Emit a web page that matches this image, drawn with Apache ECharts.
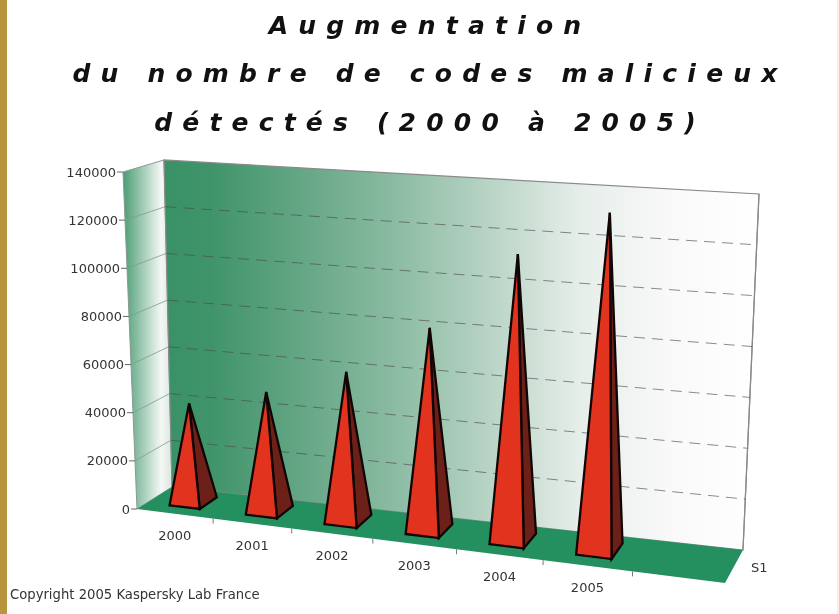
<!DOCTYPE html>
<html><head><meta charset="utf-8">
<style>
html,body{margin:0;padding:0;background:#fff}
#c{width:839px;height:614px;filter:blur(0.45px)}
svg text[style*="italic"]{letter-spacing:10.2px}
</style>
<script src="https://cdn.jsdelivr.net/npm/echarts@6/dist/echarts.min.js"></script>
</head><body><div id="c"></div>
<script>
const titleLines = ['Augmentation','du nombre de codes malicieux','détectés (2000 à 2005)'];
const categories = ['2000','2001','2002','2003','2004','2005',''];
const values = [41500,49500,61000,82000,114500,133500];
const yTicks = [0,20000,40000,60000,80000,100000,120000,140000];
const seriesName = 'S1';
const copyright = 'Copyright 2005 Kaspersky Lab France';

// Projection of the chart box: bottom/top, front/back corners on screen.
const BOX = {
  b:{fl:[137,509],fr:[725,583],bl:[172,487],br:[743,550]},
  t:{fl:[123,172],fr:[747,217],bl:[164,160],br:[759,194]}
};
const PERSPECTIVE = 1.12;
const lerp=(a,b,t)=>[a[0]+(b[0]-a[0])*t,a[1]+(b[1]-a[1])*t];
const skew=u=>u/(u+PERSPECTIVE*(1-u));
function project(u,v,d){
  const f=skew(u);
  const lev=L=>lerp(lerp(L.fl,L.fr,f),lerp(L.bl,L.br,f),d);
  return lerp(lev(BOX.b),lev(BOX.t),v);
}
const uOf=(api,c)=>c[0]/api.getWidth();
const vOf=(api,c)=>1-c[1]/api.getHeight();
const poly=(pts,style)=>({type:'polygon',shape:{points:pts},style});
const line=(a,b,style)=>({type:'line',shape:{x1:a[0],y1:a[1],x2:b[0],y2:b[1]},style});
const TXT='"DejaVu Sans",sans-serif', INK='#333333';

function renderFrame(p,api){
  const G=echarts.graphic.LinearGradient;
  const back=new G(0,0,1,0,[{offset:0,color:'#3a9166'},{offset:.08,color:'#40946a'},{offset:.23,color:'#64a685'},{offset:.4,color:'#8ebda5'},{offset:.56,color:'#bcd6c8'},{offset:.7,color:'#e6eeea'},{offset:.85,color:'#f8f9f8'},{offset:1,color:'#ffffff'}]);
  const side=new G(0,0,1,0,[{offset:0,color:'#4a9c74'},{offset:.78,color:'#f4f8f5'},{offset:1,color:'#d8e6de'}]);
  const edge={stroke:'#8a8a8a',lineWidth:1.2,fill:null};
  const kids=[
    poly([project(0,0,0),project(0,1,0),project(0,1,1),project(0,0,1)],{fill:side,stroke:'#8a9a90',lineWidth:1}),
    poly([project(0,0,1),project(0,1,1),project(1,1,1),project(1,0,1)],{fill:back,stroke:'#8a8a8a',lineWidth:1.2}),
    poly([project(0,0,0),project(0,0,1),project(1,0,1),project(1,0,0)],{fill:'#25905f'}),
    line(project(1,0,1),project(1,1,1),edge),
    {type:'text',style:{text:seriesName,x:project(1,0,0)[0]+26,y:project(1,0,0)[1]-16,fill:INK,font:'13px '+TXT,align:'left',verticalAlign:'middle'}}
  ];
  categories.forEach((_,i)=>{
    const a=project((i+1)/categories.length,0,0);
    if(i<categories.length-1) kids.push(line(a,[a[0],a[1]+5],{stroke:'#777',lineWidth:1}));
  });
  return {type:'group',children:kids};
}
function renderTick(p,api){
  const val=api.value(1), v=vOf(api,api.coord([0,val]));
  const a=project(0,v,0), b=project(0,v,1), c=project(1,v,1);
  const kids=[
    line([a[0]-6,a[1]],a,{stroke:'#666',lineWidth:1}),
    {type:'text',style:{text:String(val),x:a[0]-7,y:a[1],fill:INK,font:'13px '+TXT,align:'right',verticalAlign:'middle'}}
  ];
  if(val>0&&val<yTicks[yTicks.length-1]){
    kids.push(line(a,b,{stroke:'#7f9a8b',lineWidth:.8}));
    kids.push(line(b,c,{stroke:'#4a4a4a',lineWidth:.8,lineDash:[11,7],opacity:.8}));
  }
  return {type:'group',children:kids};
}
function renderPyramid(p,api){
  const c=api.coord([api.value(0),api.value(1)]), n=categories.length;
  const u=uOf(api,c), v=vOf(api,c), hu=0.2/n;
  const d0=.29,d1=.8;
  const fl=project(u-hu,0,d0),fr=project(u+hu,0,d0),br=project(u+hu,0,d1);
  const top=project(u,v,.5);
  const st={stroke:'#120505',lineWidth:2.3,lineJoin:'miter'};
  return {type:'group',children:[
    poly([fr,br,top],{fill:'#6d2018',...st}),
    poly([fl,fr,top],{fill:'#e2331f',...st})
  ]};
}
function renderCat(p,api){
  const i=api.value(0);
  const a=project((i+.5)/categories.length,0,0);
  return {type:'text',style:{text:categories[i],x:a[0],y:a[1]+22,fill:INK,font:'13px '+TXT,align:'center',verticalAlign:'middle'}};
}
const custom=(name,renderItem,data,z)=>({type:'custom',name,coordinateSystem:'cartesian2d',renderItem,data,z,clip:false,silent:true,animation:false});

const chart=echarts.init(document.getElementById('c'),null,{renderer:'svg',width:839,height:614});
chart.setOption({
  animation:false,
  backgroundColor:'#ffffff',
  title:{text:titleLines.join('\n'),left:425,top:-4,textAlign:'center',
    textStyle:{fontFamily:'DejaVu Sans',fontStyle:'italic',fontWeight:'bold',fontSize:25,lineHeight:48.5,color:'#111'}},
  grid:{left:0,right:0,top:0,bottom:0},
  xAxis:{type:'category',data:categories,show:false},
  yAxis:{type:'value',min:0,max:140000,interval:20000,show:false},
  graphic:[
    {type:'rect',left:0,top:0,shape:{width:7,height:614},style:{fill:'#b8943f'}},
    {type:'rect',right:0,top:0,shape:{width:2,height:614},style:{fill:'#f4f2e2'}},
    {type:'text',left:10,top:588,style:{text:copyright,fill:'#333',font:'13.2px '+TXT}}
  ],
  series:[
    custom('frame',renderFrame,[[0,0]],1),
    custom('ticks',renderTick,yTicks.map(t=>[0,t]),2),
    custom(seriesName,renderPyramid,values.map((x,i)=>[i,x]),3),
    custom('categories',renderCat,values.map((x,i)=>[i,0]),4)
  ]
});
</script></body></html>
